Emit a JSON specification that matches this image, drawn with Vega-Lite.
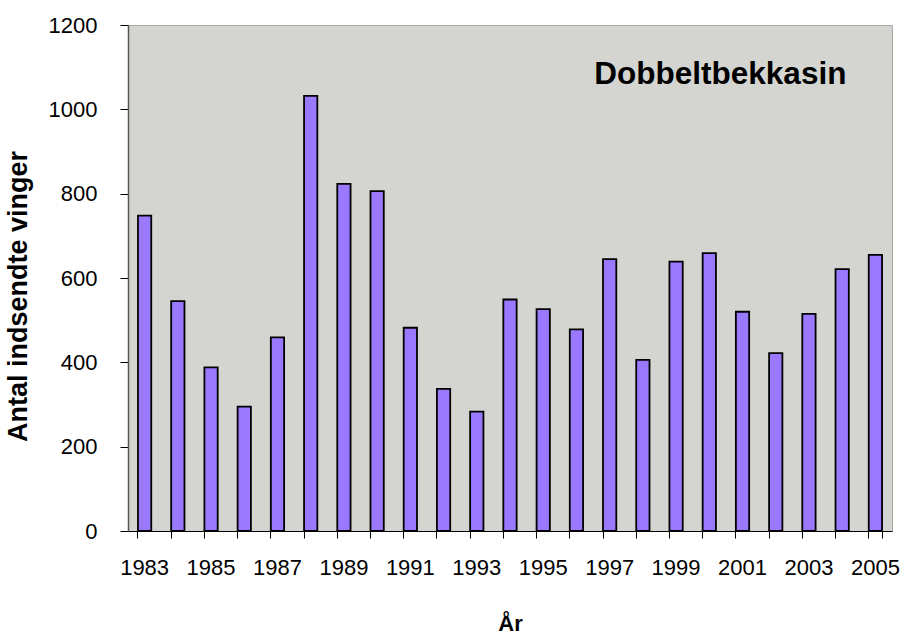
{
  "$schema": "https://vega.github.io/schema/vega-lite/v6.json",
  "width": 764,
  "height": 506,
  "autosize": {"type": "none"},
  "padding": {"left": 128, "top": 25, "right": 12, "bottom": 103},
  "background": "#ffffff",
  "config": {
    "view": {"fill": "#d4d5d0", "stroke": "#a8a8a8", "strokeWidth": 1},
    "font": "Liberation Sans",
    "axis": {
      "labelFont": "Liberation Sans",
      "labelFontSize": 22,
      "labelColor": "#000000",
      "titleFont": "Liberation Sans",
      "titleFontSize": 22,
      "titleFontWeight": "bold",
      "titleColor": "#000000",
      "tickColor": "#000000",
      "grid": false
    }
  },
  "resolve": {"axis": {"x": "independent"}},
  "layer": [
    {
      "data": {
        "values": [
          {"year": 1983, "count": 748},
          {"year": 1984, "count": 545},
          {"year": 1985, "count": 388},
          {"year": 1986, "count": 295},
          {"year": 1987, "count": 459},
          {"year": 1988, "count": 1032},
          {"year": 1989, "count": 823},
          {"year": 1990, "count": 806},
          {"year": 1991, "count": 482},
          {"year": 1992, "count": 337},
          {"year": 1993, "count": 283},
          {"year": 1994, "count": 549},
          {"year": 1995, "count": 526},
          {"year": 1996, "count": 478},
          {"year": 1997, "count": 645},
          {"year": 1998, "count": 406},
          {"year": 1999, "count": 639},
          {"year": 2000, "count": 659},
          {"year": 2001, "count": 520},
          {"year": 2002, "count": 422},
          {"year": 2003, "count": 515},
          {"year": 2004, "count": 621},
          {"year": 2005, "count": 655}
        ]
      },
      "mark": {"type": "bar", "fill": "#9a79ff", "stroke": "#000000", "strokeWidth": 1.8},
      "encoding": {
        "x": {
          "field": "year",
          "type": "ordinal",
          "scale": {"paddingInner": 0.6, "paddingOuter": 0.3},
          "axis": {
            "orient": "bottom",
            "title": "År",
            "titlePadding": 35,
            "labelAngle": 0,
            "bandPosition": 0,
            "labelPadding": 19,
            "tickSize": 7,
            "domainColor": "#000000",
            "domainWidth": 1,
            "labelExpr": "datum.value % 2 == 1 ? datum.label : ''"
          }
        },
        "y": {
          "field": "count",
          "type": "quantitative",
          "scale": {"domain": [0, 1200], "nice": false},
          "axis": {
            "title": "Antal indsendte vinger",
            "format": "d",
            "values": [0, 200, 400, 600, 800, 1000, 1200],
            "tickSize": 8,
            "labelPadding": 23,
            "titleFontSize": 27,
            "titleX": -96,
            "titleY": 271,
            "domainColor": "#555555",
            "domainWidth": 1.5
          }
        }
      }
    },
    {
      "data": {"values": [{"label": "Dobbeltbekkasin"}]},
      "mark": {
        "type": "text",
        "align": "right",
        "baseline": "alphabetic",
        "font": "Liberation Sans",
        "fontSize": 31.5,
        "fontWeight": "bold",
        "color": "#000000",
        "dx": -29
      },
      "encoding": {
        "x": {
          "datum": 2005,
          "type": "ordinal",
          "axis": {
            "orient": "bottom",
            "values": [2005],
            "bandPosition": 1,
            "labels": false,
            "domain": false,
            "title": null,
            "tickSize": 7
          }
        },
        "y": {
          "datum": 1060,
          "type": "quantitative",
          "axis": {
            "title": "Antal indsendte vinger",
            "format": "d",
            "values": [0, 200, 400, 600, 800, 1000, 1200],
            "tickSize": 8,
            "labelPadding": 23,
            "titleFontSize": 27,
            "titleX": -96,
            "titleY": 271,
            "domainColor": "#555555",
            "domainWidth": 1.5
          }
        },
        "text": {"field": "label"}
      }
    }
  ]
}
